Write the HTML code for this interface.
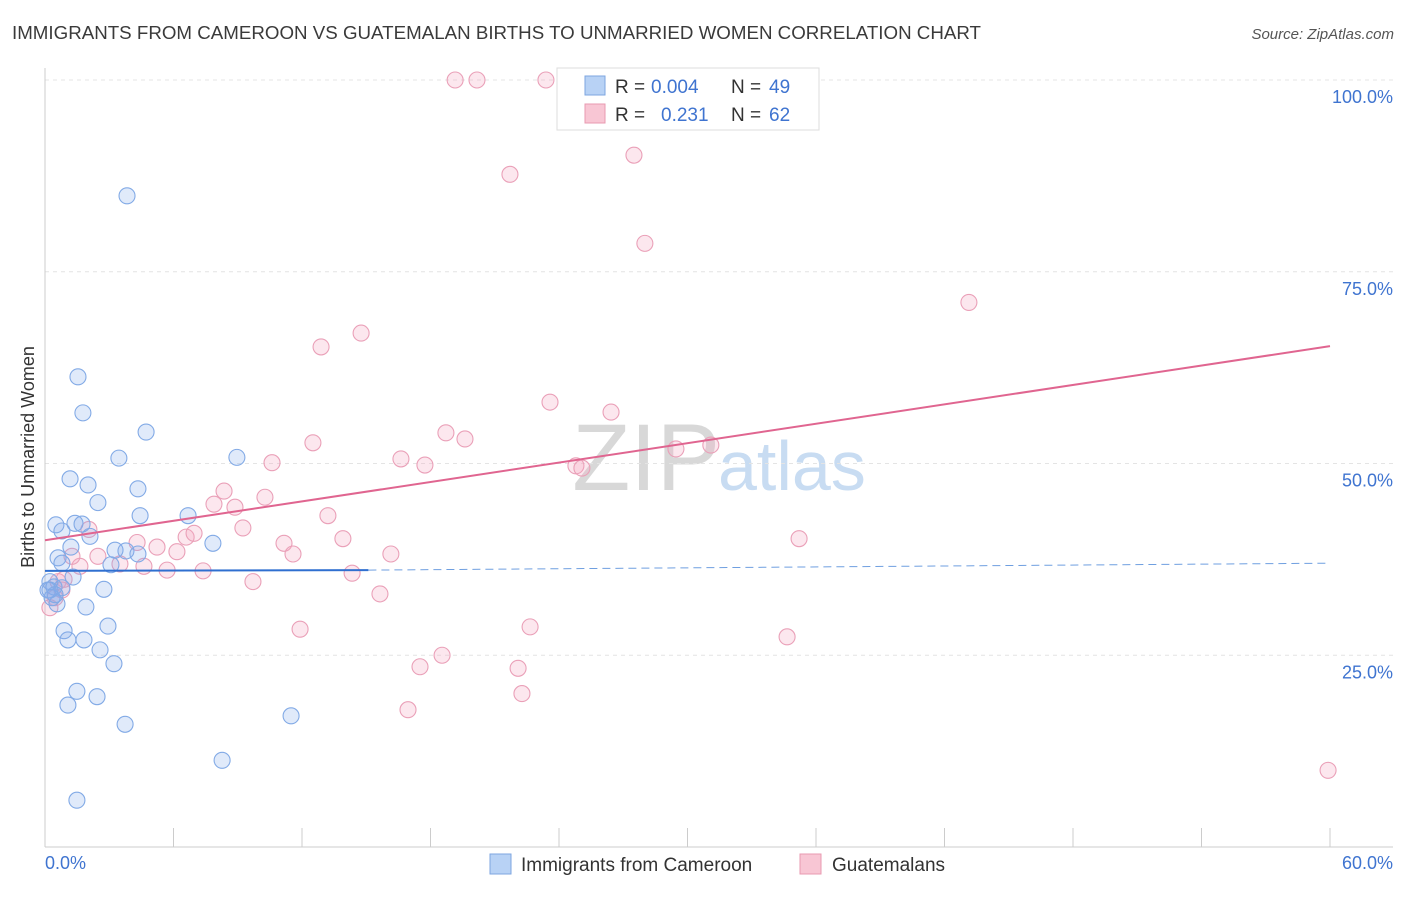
<!DOCTYPE html>
<html><head><meta charset="utf-8"><style>
body{margin:0;background:#fff;font-family:"Liberation Sans",sans-serif;}
svg text{font-family:"Liberation Sans",sans-serif;}
</style></head><body>
<svg width="1406" height="892" viewBox="0 0 1406 892">
<text x="12" y="39" font-size="18" fill="#3a3a3a" textLength="969" lengthAdjust="spacingAndGlyphs">IMMIGRANTS FROM CAMEROON VS GUATEMALAN BIRTHS TO UNMARRIED WOMEN CORRELATION CHART</text>
<text x="1394" y="39" font-size="15" fill="#555" font-style="italic" text-anchor="end">Source: ZipAtlas.com</text>
<text x="720" y="490" font-size="95" fill="#d8d8d8" text-anchor="end" font-family="Liberation Serif">ZIP</text>
<text x="718" y="490" font-size="70" fill="#c8dcf2">atlas</text>
<g id="grid"></g>
<g id="axes"></g>
<g id="marks"></g>
<text transform="translate(34,457) rotate(-90)" font-size="18" fill="#333" text-anchor="middle">Births to Unmarried Women</text>
<g>
<rect x="557" y="68" width="262" height="62" fill="#fff" stroke="#ddd"/>
<rect x="585" y="76" width="20" height="19" fill="#b8d2f5" stroke="#7ea6e0"/>
<rect x="585" y="104" width="20" height="19" fill="#f8c6d4" stroke="#e89ab0"/>
<text x="615" y="93" font-size="19" fill="#333">R =</text>
<text x="651" y="93" font-size="19" fill="#3f74d0">0.004</text>
<text x="731" y="93" font-size="19" fill="#333">N =</text>
<text x="769" y="93" font-size="19" fill="#3f74d0">49</text>
<text x="615" y="121" font-size="19" fill="#333">R =</text>
<text x="661" y="121" font-size="19" fill="#3f74d0">0.231</text>
<text x="731" y="121" font-size="19" fill="#333">N =</text>
<text x="769" y="121" font-size="19" fill="#3f74d0">62</text>
</g>
<g>
<rect x="490" y="854" width="21" height="20" fill="#b8d2f5" stroke="#7ea6e0"/>
<text x="521" y="871" font-size="19" fill="#333">Immigrants from Cameroon</text>
<rect x="800" y="854" width="21" height="20" fill="#f8c6d4" stroke="#e89ab0"/>
<text x="832" y="871" font-size="19" fill="#333">Guatemalans</text>
</g>
</svg>
<script>
const xTicks=[0,6,12,18,24,30,36,42,48,54,60];
const yTickVals=[25,50,75,100];
const yTickLabels=["25.0%","50.0%","75.0%","100.0%"];
const blueX=[3.83,1.54,1.77,4.72,3.45,8.96,1.17,2.01,4.34,2.47,4.44,6.68,0.51,1.40,1.73,0.79,2.10,1.21,7.84,3.27,3.78,4.34,0.61,0.79,3.08,1.31,0.23,0.42,0.14,0.79,0.33,0.56,1.91,2.75,0.89,1.07,2.94,1.82,2.57,3.22,1.49,1.07,2.43,3.74,11.49,8.27,1.49,0.23,0.47];
const blueY=[84.9,61.3,56.6,54.1,50.7,50.8,48.0,47.2,46.7,44.9,43.2,43.2,42.0,42.2,42.1,41.2,40.5,39.1,39.6,38.7,38.6,38.2,37.7,37.0,36.8,35.2,34.6,33.9,33.5,33.8,32.5,31.7,31.3,33.6,28.2,27.0,28.8,27.0,25.7,23.9,20.3,18.5,19.6,16.0,17.1,11.3,6.1,33.5,32.9];
const pinkX=[19.15,20.17,23.39,27.50,21.71,28.01,43.14,12.89,14.76,23.58,26.43,18.72,19.61,12.51,10.60,16.62,17.74,24.79,25.07,29.46,31.09,8.36,10.27,7.89,8.87,2.05,4.30,5.23,6.59,6.96,9.24,13.21,13.91,11.16,11.58,16.15,6.16,2.47,3.50,4.62,5.70,7.38,9.71,14.34,15.64,11.91,22.65,34.65,35.21,17.51,18.54,22.09,22.27,16.95,59.91,1.63,0.61,0.79,0.47,0.23,1.26,0.89];
const pinkY=[100,100,100,90.2,87.7,78.7,71.0,65.2,67.0,58.0,56.7,54.0,53.2,52.7,50.1,50.6,49.8,49.7,49.4,51.9,52.4,46.4,45.6,44.7,44.3,41.4,39.7,39.1,40.4,40.9,41.6,43.2,40.2,39.6,38.2,38.2,38.5,37.9,36.9,36.6,36.1,36.0,34.6,35.7,33.0,28.4,28.7,27.4,40.2,23.5,25.0,23.3,20.0,17.9,10.0,36.6,34.6,33.5,32.5,31.2,37.9,34.9];
const X0=45,X1=1330,Y0=847,Y100=80;
const sx=v=>X0+(v/60)*(X1-X0);
const sy=v=>Y0-(v/100)*(Y0-Y100);
const NS="http://www.w3.org/2000/svg";
function mk(tag,attrs,parent){const e=document.createElementNS(NS,tag);for(const k in attrs)e.setAttribute(k,attrs[k]);document.getElementById(parent).appendChild(e);return e;}
yTickVals.forEach((v,i)=>{
 const l=mk('line',{x1:X0,x2:1393,y1:sy(v),y2:sy(v),stroke:'#e4e4e4','stroke-dasharray':'4,4'},'grid');
 
 
 const t=mk('text',{x:1393,y:sy(v)+23,'font-size':18,fill:'#3f74d0','text-anchor':'end'},'axes');
 t.textContent=yTickLabels[i];
 
 
});
const ax=mk('line',{x1:X0,x2:X0,y1:68,y2:Y0,stroke:'#ccc'},'axes');


const bx=mk('line',{x1:X0,x2:1393,y1:Y0,y2:Y0,stroke:'#ccc'},'axes');


xTicks.forEach(v=>{const t=mk('line',{x1:sx(v),x2:sx(v),y1:828,y2:Y0,stroke:'#ccc'},'axes');
 
 });
const xl0=mk('text',{x:45,y:869,'font-size':18,fill:'#3f74d0'},'axes');xl0.textContent='0.0%';


const xl1=mk('text',{x:1393,y:869,'font-size':18,fill:'#3f74d0','text-anchor':'end'},'axes');xl1.textContent='60.0%';


pinkX.forEach((x,i)=>{const c=mk('circle',{cx:sx(x),cy:sy(pinkY[i]),r:8,fill:'rgba(245,170,195,0.28)',stroke:'#eaa0b8','stroke-width':1.1},'marks');
 
 });
blueX.forEach((x,i)=>{const c=mk('circle',{cx:sx(x),cy:sy(blueY[i]),r:8,fill:'rgba(130,170,235,0.25)',stroke:'#82aae6','stroke-width':1.1},'marks');
 
 });
const b1=mk('line',{x1:sx(0),y1:sy(36.0),x2:sx(15.1),y2:sy(36.1),stroke:'#2f6fd0','stroke-width':2},'marks');


const b2=mk('line',{x1:sx(15.1),y1:sy(36.1),x2:sx(60),y2:sy(37.0),stroke:'#6f9fe0','stroke-width':1,'stroke-dasharray':'8,5'},'marks');


const p1=mk('line',{x1:sx(0),y1:sy(40.0),x2:sx(60),y2:sy(65.3),stroke:'#e06590','stroke-width':2},'marks');


</script>
</body></html>
